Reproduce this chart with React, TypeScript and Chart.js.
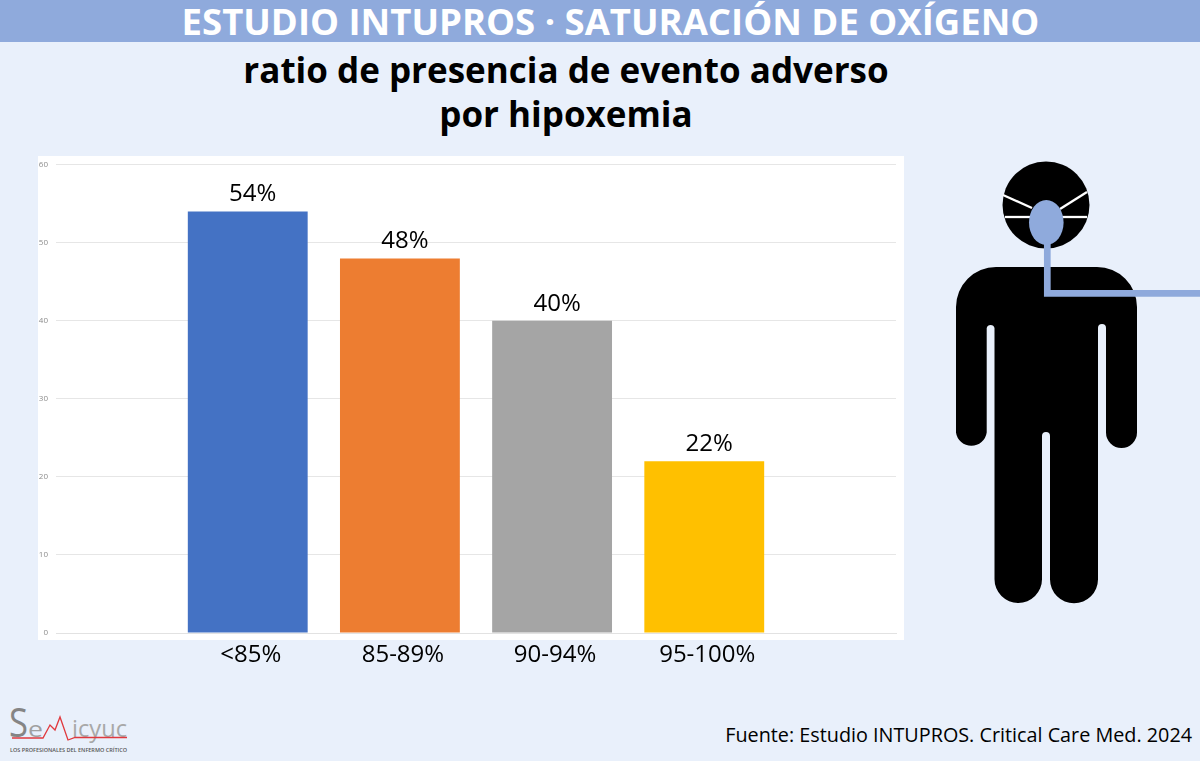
import React, { useEffect, useRef } from "react";
import { Chart, registerables } from "chart.js";

Chart.register(...registerables);

const categories = ["<85%", "85-89%", "90-94%", "95-100%"];
const values = [54, 48, 40, 22];
const barColors = ["#4472C4", "#ED7D31", "#A5A5A5", "#FFC000"];
const headerTitle = "ESTUDIO INTUPROS · SATURACIÓN DE OXÍGENO";
const subtitleLines = ["ratio de presencia de evento adverso", "por hipoxemia"];
const sourceText = "Fuente: Estudio INTUPROS. Critical Care Med. 2024";

const FONT = '"Open Sans", "Noto Sans", sans-serif';
const BLUE = "#8FAADC";

const valueLabels = {
  id: "valueLabels",
  afterDatasetsDraw(chart: any) {
    const { ctx } = chart;
    const meta = chart.getDatasetMeta(0);
    ctx.save();
    ctx.font = `24px ${FONT}`;
    ctx.fillStyle = "#000";
    ctx.textAlign = "center";
    ctx.textBaseline = "bottom";
    meta.data.forEach((bar: any, i: number) => {
      ctx.fillText(`${values[i]}%`, bar.x + 5, bar.y - 5);
    });
    ctx.restore();
  },
};

function Person() {
  return (
    <svg width="1200" height="761" style={{ position: "absolute", left: 0, top: 0 }}>
      <circle cx="1046" cy="205" r="43.5" fill="#000" />
      <path
        d="M996 267 H1097 A40 40 0 0 1 1137 307 V432.5 A15.5 15.5 0 0 1 1106 432.5 V328 A4 4 0 0 0 1098 328 V579.25 A23.75 23.75 0 0 1 1050 579.25 V436 A4 4 0 0 0 1042 436 V579.25 A23.75 23.75 0 0 1 994.5 579.25 V328 A4 4 0 0 0 986.7 328 V432.5 A15.5 15.5 0 0 1 956 432.5 V307 A40 40 0 0 1 996 267 Z"
        fill="#000"
      />
      <g stroke="#fff" strokeWidth="2.3" fill="none">
        <line x1="1003" y1="195" x2="1032" y2="208" />
        <line x1="1087" y1="192" x2="1060" y2="209" />
        <line x1="1005" y1="217" x2="1030" y2="217" />
        <line x1="1062" y1="217" x2="1087" y2="217" />
      </g>
      <ellipse cx="1046.3" cy="222.5" rx="17.3" ry="22.5" fill={BLUE} />
      <path d="M1047.3 240 V293.3 H1200" stroke={BLUE} strokeWidth="6.7" fill="none" />
      {/* logo */}
      <text x="9" y="737" fontFamily={FONT} fontSize="41" fill="#858585" textLength="19" lengthAdjust="spacingAndGlyphs">S</text>
      <text x="28" y="737" fontFamily={FONT} fontSize="21" fill="#A0A0A0" textLength="15" lengthAdjust="spacingAndGlyphs">e</text>
      <text x="72" y="737" fontFamily={FONT} fontSize="23" fill="#A8A8A8" textLength="55" lengthAdjust="spacingAndGlyphs">icyuc</text>
      <path d="M12 738 H43 L50 725 L55 730 L60 717 L68 740 L75 737.5 H127" stroke="#E0393E" strokeWidth="1.3" fill="none" />
      <text x="10" y="751.5" fontFamily={FONT} fontSize="5.5" fontWeight="600" fill="#555" textLength="117" lengthAdjust="spacingAndGlyphs">LOS PROFESIONALES DEL ENFERMO CRÍTICO</text>
    </svg>
  );
}

export default function App() {
  const ref = useRef<HTMLCanvasElement>(null);
  useEffect(() => {
    const chart = new Chart(ref.current!, {
      type: "bar",
      data: {
        datasets: [
          {
            data: values.map((v, i) => ({ x: i, y: v })),
            backgroundColor: barColors,
            barPercentage: 0.88,
            categoryPercentage: 0.895,
          } as any,
        ],
      },
      options: {
        animation: false,
        responsive: false,
        layout: { padding: { top: 4, right: 8, left: 0, bottom: 0 } },
        plugins: { legend: { display: false }, title: { display: false }, tooltip: { enabled: false } },
        scales: {
          x: {
            type: "linear",
            offset: false,
            min: -1.26,
            max: 4.26,
            grid: { display: false, drawTicks: false },
            border: { color: "#E2E2E2", width: 1 },
            afterBuildTicks(scale: any) {
              scale.ticks = categories.map((_, i) => ({ value: i }));
            },
            afterFit(scale: any) {
              scale.height = 47;
            },
            ticks: {
              autoSkip: false,
              maxRotation: 0,
              padding: 8,
              labelOffset: 3,
              color: "#000",
              font: { family: FONT, size: 24 },
              callback: (v: any) => categories[v as number] ?? "",
            },
          },
          y: {
            min: 0,
            max: 60,
            grid: { color: "#E6E6E6", drawTicks: false },
            border: { display: false },
            afterFit(scale: any) {
              scale.width = 18;
            },
            ticks: {
              stepSize: 10,
              padding: 8,
              color: "#8C8C8C",
              font: { family: FONT, size: 8 },
            },
          },
        },
      },
      plugins: [valueLabels],
    } as any);
    return () => chart.destroy();
  }, []);

  return (
    <div style={{ position: "fixed", left: 0, top: 0, width: 1200, height: 761, background: "#E9F0FB", overflow: "hidden", fontFamily: FONT }}>
      <div style={{ position: "absolute", left: 0, top: 0, width: 1200, height: 42, background: BLUE, color: "#fff", fontWeight: 700, fontSize: 36.5, lineHeight: "42px", textAlign: "center", paddingLeft: 21, boxSizing: "border-box", whiteSpace: "nowrap" }}>
        {headerTitle}
      </div>
      <div style={{ position: "absolute", left: 0, top: 48, width: 1132, color: "#000", fontWeight: 700, fontSize: 35, lineHeight: "44px", textAlign: "center", whiteSpace: "nowrap" }}>
        {subtitleLines.map((l) => (
          <div key={l}>{l}</div>
        ))}
      </div>
      <div style={{ position: "absolute", left: 38, top: 156, width: 866, height: 484, background: "#fff" }} />
      <Person />
      <canvas ref={ref} width={866} height={528} style={{ position: "absolute", left: 38, top: 152, width: 866, height: 528 }} />
      <div style={{ position: "absolute", right: 8, top: 721, color: "#000", fontSize: 19.8, lineHeight: "28px", whiteSpace: "nowrap" }}>
        {sourceText}
      </div>
    </div>
  );
}
